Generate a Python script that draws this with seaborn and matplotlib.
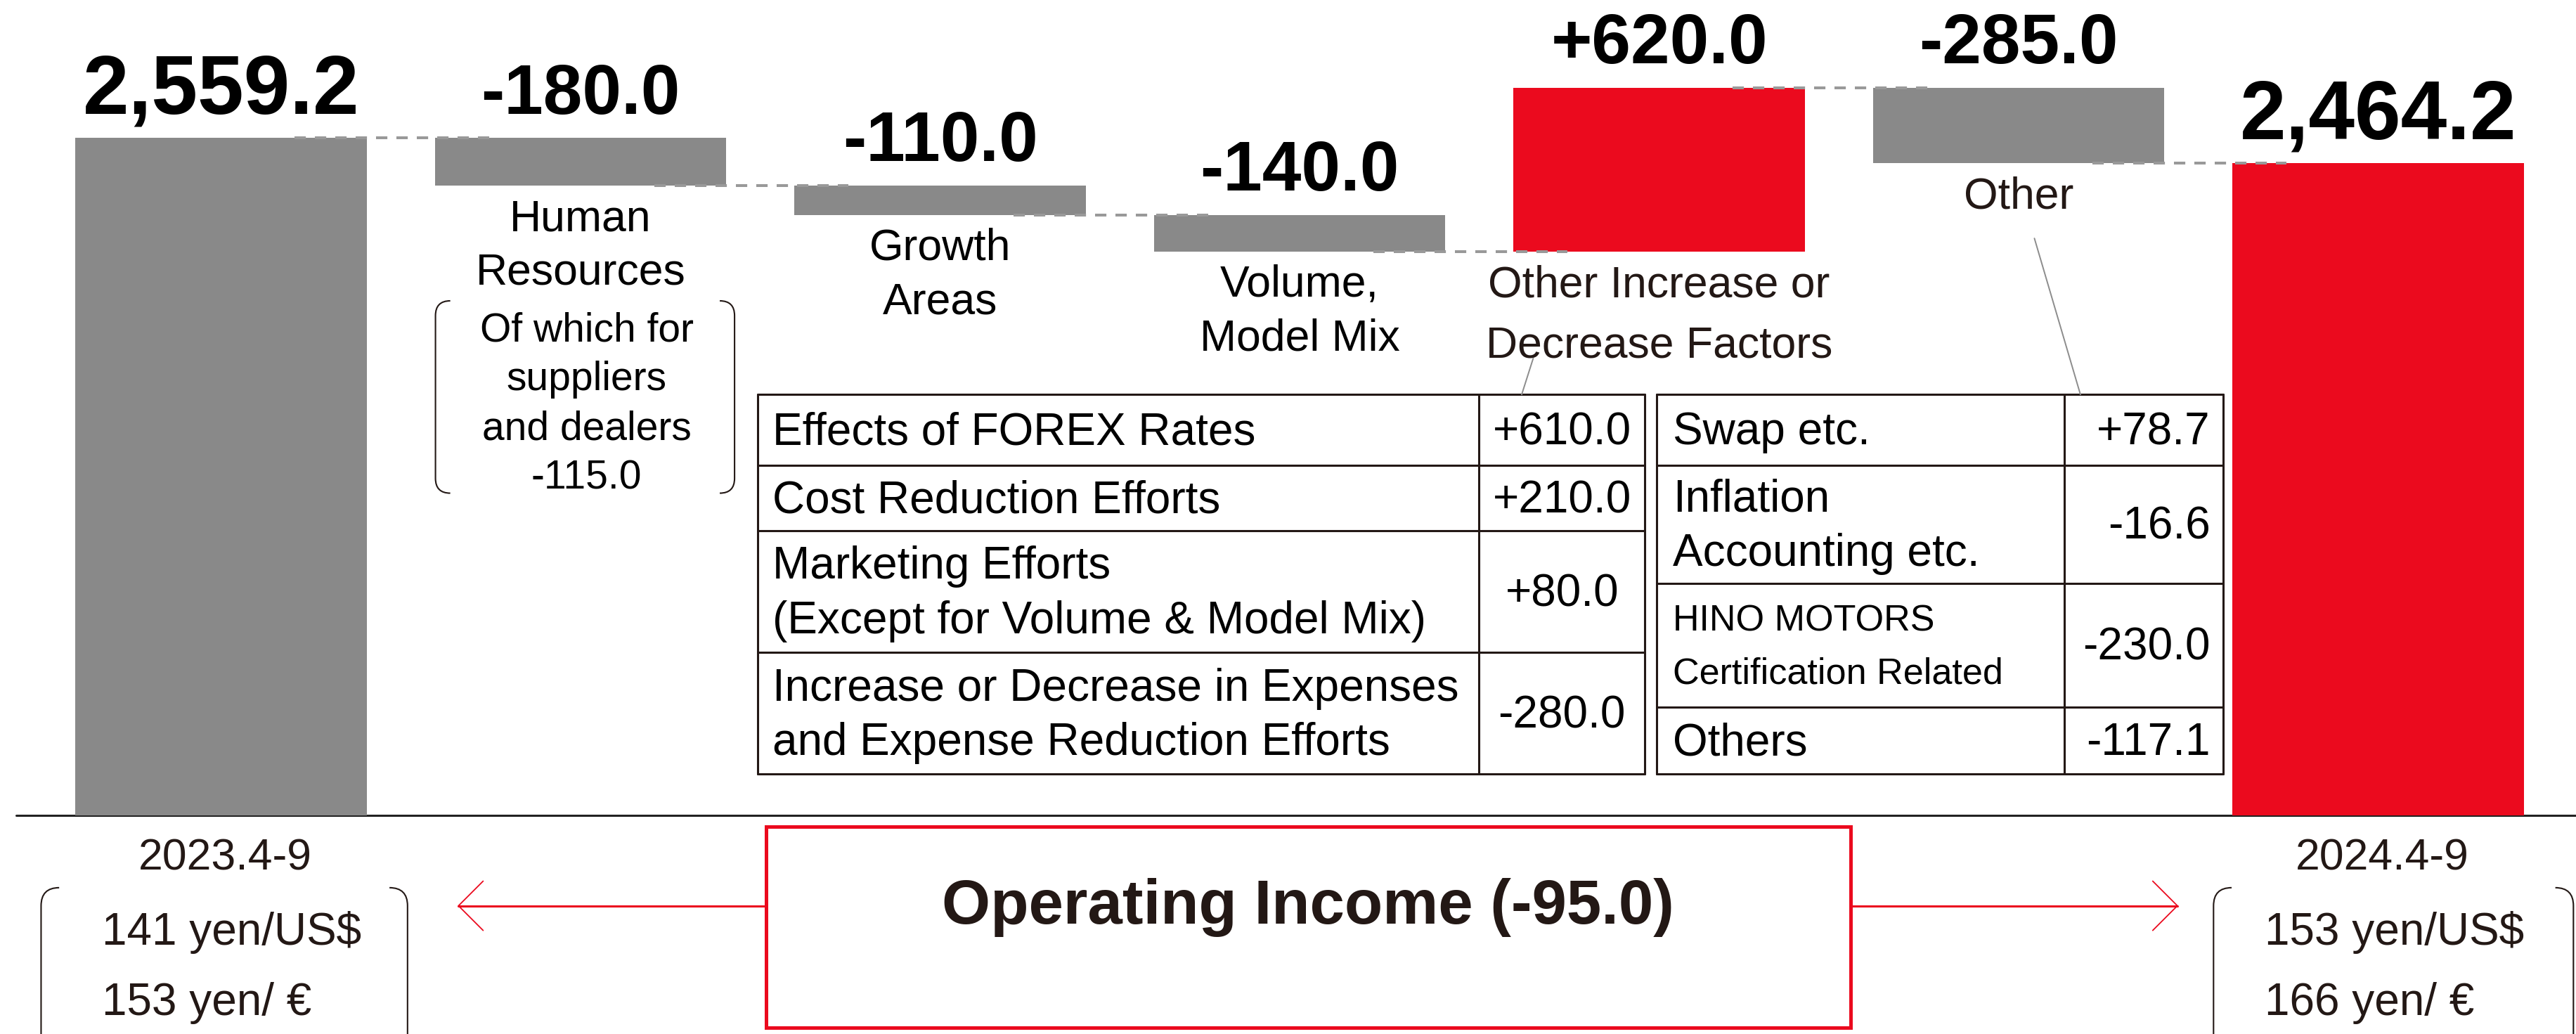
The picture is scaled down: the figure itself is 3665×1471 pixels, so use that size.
import matplotlib
matplotlib.use("Agg")
import matplotlib.pyplot as plt
from matplotlib.path import Path
from matplotlib.patches import PathPatch, Rectangle
import seaborn as sns
import numpy as np
import pandas as pd

# ---- data ----
start_label = "2023.4-9"
end_label = "2024.4-9"
start_value = 2559.2
factor_names = ["Human\nResources", "Growth\nAreas", "Volume,\nModel Mix",
                "Other Increase or\nDecrease Factors", "Other"]
factor_values = [-180.0, -110.0, -140.0, 620.0, -285.0]
hr_suppliers_dealers = -115.0

forex_items = ["Effects of FOREX Rates", "Cost Reduction Efforts",
               "Marketing Efforts\n(Except for Volume & Model Mix)",
               "Increase or Decrease in Expenses\nand Expense Reduction Efforts"]
forex_values = [610.0, 210.0, 80.0, -280.0]

other_items = ["Swap etc.", "Inflation\nAccounting etc.",
               "HINO MOTORS\nCertification Related", "Others"]
other_values = [78.7, -16.6, -230.0, -117.1]

rates_start = ["141 yen/US$", "153 yen/ €"]
rates_end = ["153 yen/US$", "166 yen/ €"]

GRAY = "#898989"
RED = "#EB0A1E"
DARK = "#231815"

# ---- waterfall pieces ----
levels = start_value + np.cumsum(factor_values)
end_value = levels[-1]
prev = np.concatenate([[start_value], levels[:-1]])
cats = [start_label] + factor_names + [end_label]
tops = [start_value] + list(np.maximum(prev, levels)) + [end_value]
bottoms = [0.0] + list(np.minimum(prev, levels)) + [0.0]
colors = [GRAY] + [RED if v > 0 else GRAY for v in factor_values] + [RED]
df = pd.DataFrame({"cat": cats, "height": np.array(tops) - np.array(bottoms)})

sns.set_theme(style="white")
plt.rcParams["font.family"] = ["Liberation Sans", "DejaVu Sans"]

fig = plt.figure(figsize=(36.66, 14.71), dpi=100)
ax = fig.add_axes([0, 1 - 496 / 629, 1, 496 / 629])

W = 0.81
sns.barplot(data=df, x="cat", y="height", hue="cat", palette=colors,
            width=W, saturation=1, linewidth=0, legend=False, ax=ax)
for cont, b in zip(ax.containers, bottoms):
    for p in cont:
        p.set_y(b)

ax.set_xlim(-0.615, 6.552)
ax.set_ylim(0, 3081)
ax.axis("off")

# baseline
ax.axhline(0, xmin=10 / 1568, xmax=1, color="#222222", lw=2.2, zorder=0.5, clip_on=False)

# dashed connectors
run = [start_value] + list(levels)
for i in range(len(cats) - 1):
    ax.plot([i + W / 2 - 0.2, i + 1 - W / 2 + 0.15], [run[i], run[i]],
            color="#999999", lw=2.9, ls=(0, (4, 3.2)), zorder=3)

# value labels
for i, t in enumerate(tops):
    if i == 0 or i == len(cats) - 1:
        txt, fs = f"{t:,.1f}", 85
    else:
        txt, fs = f"{factor_values[i - 1]:+.1f}", 72
    ax.annotate(txt, (i, t), xytext=(0, 25), textcoords="offset points",
                ha="center", va="baseline", fontsize=fs, fontweight="bold",
                color="black")

# category labels under floating bars
for i, name in enumerate(factor_names, start=1):
    ls = 1.6 if "Other Increase" in name else 1.38
    col = DARK if name.startswith("Other") else "black"
    ax.annotate(name, (i, bottoms[i]), xytext=(0, -13), textcoords="offset points",
                ha="center", va="top", fontsize=45, linespacing=ls, color=col)

# period labels under baseline
for i, lab in [(0, start_label), (len(cats) - 1, end_label)]:
    ax.annotate(lab, (i, 0), xytext=(4, -44), textcoords="offset points",
                ha="center", va="center", fontsize=45, color=DARK)

# ---- overlay in reference pixel space ----
ov = fig.add_axes([0, 0, 1, 1])
ov.set_xlim(0, 1568)
ov.set_ylim(629, 0)
ov.axis("off")


def bracket(x0, x1, y0, y1, r, lw=1.5):
    for x, dx in [(x0, r), (x1, -r)]:
        verts = [(x + dx, y0), (x, y0), (x, y0 + r), (x, y1 - r), (x, y1), (x + dx, y1)]
        codes = [Path.MOVETO, Path.CURVE3, Path.CURVE3, Path.LINETO, Path.CURVE3, Path.CURVE3]
        ov.add_patch(PathPatch(Path(verts, codes), fill=False, ec=DARK, lw=lw))


# Human resources note
bracket(265, 447, 183, 300, 9)
ov.text(357, 246, f"Of which for\nsuppliers\nand dealers\n{hr_suppliers_dealers:.1f}",
        ha="center", va="center", fontsize=41, linespacing=1.38, color="black")

# table 1
tx0, tx1, tdiv = 461, 1001, 900
rows1 = [240, 283, 323, 397, 471]
for y in rows1:
    ov.plot([tx0, tx1], [y, y], color=DARK, lw=2.2)
for x in [tx0, tdiv, tx1]:
    ov.plot([x, x], [rows1[0], rows1[-1]], color=DARK, lw=2.2)
for k, (item, val) in enumerate(zip(forex_items, forex_values)):
    yc = (rows1[k] + rows1[k + 1]) / 2 + 1.5
    ov.text(470, yc, item, ha="left", va="center", fontsize=46, linespacing=1.38, color="black")
    ov.text((tdiv + tx1) / 2, yc, f"{val:+.1f}", ha="center", va="center", fontsize=46, color="black")

# table 2
ux0, ux1, udiv = 1008, 1353, 1256
rows2 = [240, 283, 355, 430, 471]
for y in rows2:
    ov.plot([ux0, ux1], [y, y], color=DARK, lw=2.2)
for x in [ux0, udiv, ux1]:
    ov.plot([x, x], [rows2[0], rows2[-1]], color=DARK, lw=2.2)
for k, (item, val) in enumerate(zip(other_items, other_values)):
    yc = (rows2[k] + rows2[k + 1]) / 2 + 1.5
    fs = 37.5 if item.startswith("HINO") else 46
    ls = 1.7 if item.startswith("HINO") else 1.38
    ov.text(1018, yc, item, ha="left", va="center", fontsize=fs, linespacing=ls, color="black")
    ov.text(1345, yc, f"{val:+.1f}", ha="right", va="center", fontsize=46, color="black")

# leader lines
ov.plot([933, 926], [218, 240], color="#8c8c8c", lw=1.4)
ov.plot([1238, 1266], [145, 240], color="#8c8c8c", lw=1.4)

# operating income box and arrows
ov.add_patch(Rectangle((466, 503), 660, 122, fill=True, fc="white", ec=RED, lw=3.6))
total = sum(factor_values)
ov.text(796, 552, f"Operating Income ({total:.1f})", ha="center", va="center",
        fontsize=64, fontweight="bold", color=DARK)
ov.plot([466, 279], [551, 551], color=RED, lw=2.2)
ov.plot([294, 279, 294], [536, 551, 566], color=RED, lw=1.3)
ov.plot([1126, 1325], [551, 551], color=RED, lw=2.2)
ov.plot([1310, 1325, 1310], [536, 551, 566], color=RED, lw=1.3)

# exchange rate brackets
bracket(25, 248, 540, 645, 11)
bracket(1347, 1566, 540, 645, 11)
for x, rates in [(62, rates_start), (1378, rates_end)]:
    ov.text(x, 567, rates[0], ha="left", va="center", fontsize=46, color=DARK)
    ov.text(x, 610, rates[1], ha="left", va="center", fontsize=46, color=DARK)

fig.savefig("out.png", dpi=100)
